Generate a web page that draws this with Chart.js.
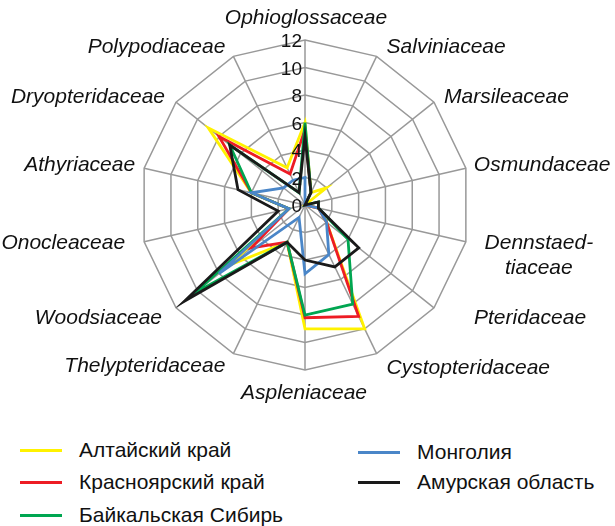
<!DOCTYPE html>
<html>
<head>
<meta charset="utf-8">
<script src="https://cdn.jsdelivr.net/npm/chart.js@4.4.0/dist/chart.umd.min.js"></script>
<style>
  body { margin: 0; background: #fff; }
  #wrap { position: relative; width: 615px; height: 526px; font-family: 'Liberation Sans', Arial, sans-serif; }
  #radar { position: absolute; left: 0; top: 0; }
  .legend-item { position: absolute; display: flex; align-items: center; font-size: 21px; color: #111; white-space: nowrap; transform: translateY(-50%); }
  .legend-item .swatch { width: 42px; height: 3px; margin-right: 17px; }
</style>
</head>
<body>
<div id="wrap">
  <canvas id="radar" width="615" height="420"></canvas>
  <div id="legend"></div>
</div>
<script>
const families = ['Ophioglossaceae', 'Salviniaceae', 'Marsileaceae', 'Osmundaceae', ['Dennstaed-', 'tiaceae'],
  'Pteridaceae', 'Cystopteridaceae', 'Aspleniaceae', 'Thelypteridaceae', 'Woodsiaceae',
  'Onocleaceae', 'Athyriaceae', 'Dryopteridaceae', 'Polypodiaceae'];

const altai       = [6,   1, 2, 0, 1, 2, 10, 9,   3, 7,    1.2, 4, 9, 3];
const krasnoyarsk = [5.5, 1, 0, 0, 1, 2, 9,  8.2, 3, 5,    1.2, 4, 8, 2.5];
const baikal      = [6,   1, 0, 1, 1, 4, 8,  8,   3, 10.3, 1.2, 4, 7, 1];
const mongolia    = [2,   0, 0, 0, 1, 2, 4,  5,   1, 8,    1.2, 4, 2, 2];
const amur        = [5,   1, 0, 1, 1, 5, 5,  4,   3, 11.2, 2,   5, 7, 1];

const tickValues = [0, 2, 4, 6, 8, 10, 12];

// dx, dy from the outer end of each axis, and alignment
const labelOffsets = [
  [1, -22, 'center'], [10, -9, 'left'], [10, -5, 'left'], [8, -3, 'left'], [73, 1, 'center'],
  [40, 10, 'left'], [10, 14, 'left'], [-1, 23, 'center'], [-8, 12, 'right'], [-14, 10, 'right'],
  [-19, 1, 'right'], [-9, -3, 'right'], [-11, -5, 'right'], [-8, -9, 'right']
];

const series = [
  { name: 'Алтайский край', data: altai, color: '#FFF200', order: 5 },
  { name: 'Красноярский край', data: krasnoyarsk, color: '#ED1C24', order: 4 },
  { name: 'Байкальская Сибирь', data: baikal, color: '#00A651', order: 3 },
  { name: 'Монголия', data: mongolia, color: '#4A86C8', order: 2 },
  { name: 'Амурская область', data: amur, color: '#1A1A1A', order: 1 }
];

const labelsPlugin = {
  id: 'radarLabels',
  afterDatasetsDraw(chart) {
    const s = chart.scales.r;
    const ctx = chart.ctx;
    ctx.save();
    ctx.fillStyle = '#111';
    ctx.font = '19px "Liberation Sans", Arial, sans-serif';
    ctx.textAlign = 'right';
    ctx.textBaseline = 'middle';
    tickValues.forEach(v => {
      const d = s.getDistanceFromCenterForValue(v);
      ctx.fillText(String(v), s.xCenter - 3, s.yCenter - d + 2);
    });

    ctx.font = 'italic 21px "Liberation Sans", Arial, sans-serif';
    families.forEach((lab, i) => {
      const p = s.getPointPosition(i, s.drawingArea);
      const [dx, dy, align] = labelOffsets[i];
      ctx.textAlign = align;
      const lines = Array.isArray(lab) ? lab : [lab];
      lines.forEach((t, k) => ctx.fillText(t, p.x + dx, p.y + dy + k * 25));
    });
    ctx.restore();
  }
};

new Chart(document.getElementById('radar'), {
  type: 'radar',
  data: {
    labels: families,
    datasets: series.map(s => ({
      label: s.name,
      data: s.data,
      borderColor: s.color,
      backgroundColor: s.color,
      borderWidth: 2.8,
      pointRadius: 0,
      fill: false,
      order: s.order
    }))
  },
  options: {
    responsive: false,
    animation: false,
    layout: { padding: { left: 140, right: 145, top: 40, bottom: 50 } },
    plugins: { legend: { display: false }, tooltip: { enabled: false } },
    scales: {
      r: {
        min: 0,
        max: 12,
        ticks: { stepSize: 2, display: false },
        grid: { color: '#999', lineWidth: 1.5 },
        angleLines: { color: '#999', lineWidth: 1.5 },
        pointLabels: { display: false }
      }
    }
  },
  plugins: [labelsPlugin]
});

// legend in two columns
const legendPos = [[20, 450], [20, 482], [20, 515], [358, 452], [358, 482]];
const legend = document.getElementById('legend');
series.forEach((s, i) => {
  const item = document.createElement('div');
  item.className = 'legend-item';
  item.style.left = legendPos[i][0] + 'px';
  item.style.top = legendPos[i][1] + 'px';
  item.innerHTML = '<span class="swatch" style="background:' + s.color + '"></span><span>' + s.name + '</span>';
  legend.appendChild(item);
});
</script>
</body>
</html>
